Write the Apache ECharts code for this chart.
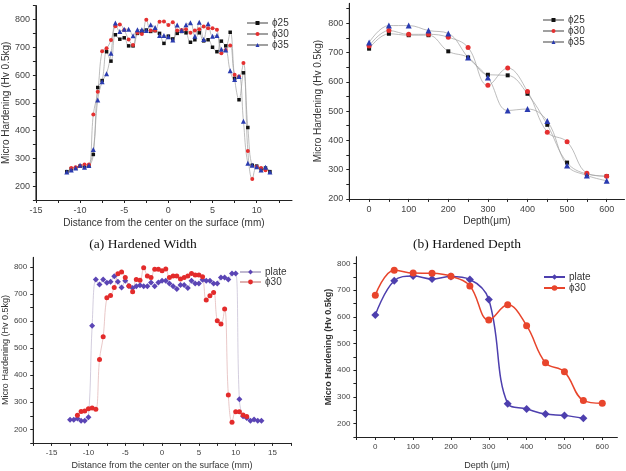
<!DOCTYPE html>
<html>
<head>
<meta charset="utf-8">
<script src="https://cdn.jsdelivr.net/npm/echarts@6/dist/echarts.min.js"></script>
<style>
html, body { margin: 0; background: #fff; }
#main { width: 626px; height: 471px; }
</style>
</head>
<body>
<div id="main"></div>
<script>
// (a) hardened width, three nozzle sizes
var widthX = [-11.5,-11,-10.5,-10,-9.5,-9,-8.5,-8,-7.5,-7,-6.5,-6,-5.5,-5,-4.5,-4,-3.5,-3,-2.5,-2,-1.5,-1,-0.5,0,
              0.5,1,1.5,2,2.5,3,3.5,4,4.5,5,5.5,6,6.5,7,7.5,8,8.5,9,9.5,10,10.5,11,11.5];
var w25 = [252,262,265,272,270,273,314,555,580,684,650,745,729,734,705,705,750,757,762,757,760,750,714,740,
           730,750,757,752,718,727,752,723,727,700,684,722,705,754,588,511,608,411,275,272,262,265,252];
var w30 = [null,265,268,272,278,278,458,540,686,696,726,776,782,762,728,708,752,748,799,760,760,792,793,780,
           790,760,762,765,752,760,765,775,768,768,763,678,690,706,601,595,643,326,226,270,265,257,null];
var w35 = [251,258,265,275,268,274,332,510,576,605,678,787,757,765,765,741,763,763,760,781,771,742,742,738,
           726,780,760,781,788,740,790,728,785,740,742,693,690,615,584,595,434,282,275,270,258,268,251];

// (b) hardened depth
var depthX = [0,50,100,150,200,250,300,350,400,450,500,550,600];
var d25 = [713,764,759,759,704,683,624,622,559,453,324,285,278];
var d30 = [722,775,762,762,752,717,588,647,567,428,395,288,277];
var d35 = [734,792,792,775,765,683,615,502,507,466,314,280,262];

// plate vs phi30, width
var plateWX = [-12.5,-12,-11.5,-11,-10.5,-10,-9.5,-9,-8.5,-8,-7.5,-7,-6.5,-6,-5.5,-5,-4.5,-4,-3.5,-3,-2.5,-2,-1.5,-1,-0.5,
               0,0.5,1,1.5,2,2.5,3,3.5,4,4.5,5,5.5,6,6.5,7,7.5,8,8.5,9,9.5,10,10.5,11,11.5,12,12.5,13,13.5];
var plateW = [235,235,240,232,232,245,582,753,735,753,741,745,765,745,724,748,729,722,728,732,728,728,742,728,742,
              748,748,738,728,718,733,733,722,748,738,738,752,748,748,738,738,760,760,753,775,775,311,248,242,232,236,232,232];
var cmpWX = widthX;
var cmpW30 = [252,266,268,276,279,274,458,542,686,694,724,774,781,760,729,708,753,750,796,766,760,791,791,785,
              792,760,766,766,755,760,766,775,770,770,763,677,693,705,601,589,644,327,226,265,265,253,247];

// plate vs phi30, depth
var plateDX = [0,50,100,150,200,250,300,350,400,450,500,550];
var plateD = [607,735,753,742,751,740,665,275,255,236,231,220];
var cmpD30 = [681,775,764,763,752,716,588,645,567,428,394,287,276];

// tick labels and tick marks
var ticksW1 = [-15,-10,-5,0,5,10], minorW1 = [-12.5,-7.5,-2.5,2.5,7.5,12.5];
var ticksW2 = [-15,-10,-5,0,5,10,15], minorW2 = [-17.5,-12.5,-7.5,-2.5,2.5,7.5,12.5,17.5];
var ticksD = [0,100,200,300,400,500,600], minorD = [-50,50,150,250,350,450,550];
var ticksH = [200,300,400,500,600,700,800], minorH = [150,250,350,450,550,650,750,850];

var legendText = {a25:'ϕ25', a30:'ϕ30', a35:'ϕ35', b25:'ϕ25', b30:'ϕ30', b35:'ϕ35',
                  cP:'plate', c30:'ϕ30', dP:'plate', d30:'ϕ30'};

var FONT = 'Liberation Sans';
var myChart = echarts.init(document.getElementById('main'));

function zip(xs, ys) {
    return xs.map(function (x, i) { return [x, ys[i]]; });
}

function axis(gi, min, max, majors, minors, name, gap, fs) {
    var marks = majors.concat(minors).filter(function (v) { return v >= min && v <= max; })
                      .sort(function (a, b) { return a - b; });
    return {
        type: 'value', gridIndex: gi, min: min, max: max,
        name: name, nameLocation: 'middle', nameGap: gap,
        nameTextStyle: { fontFamily: FONT, fontSize: fs + 1, color: '#333' },
        axisLine: { show: true, onZero: false, lineStyle: { color: '#222', width: 1 } },
        axisTick: { show: true, length: 3, customValues: marks },
        axisLabel: { customValues: majors, fontFamily: FONT, fontSize: fs, color: '#444', margin: 6 },
        splitLine: { show: false }
    };
}

// axis ranges per panel
var xMin = [-15, -50, -17.5, -50], xMax = [14, 645, 17.5, 640];
var yMin = [150, 200, 150, 150], yMax = [850, 868, 835, 825];

var xAxes = [
    axis(0, xMin[0], xMax[0], ticksW1, minorW1, 'Distance from the center on the surface (mm)', 18, 9),
    axis(1, xMin[1], xMax[1], ticksD, minorD, 'Depth(μm)', 17, 9),
    axis(2, xMin[2], xMax[2], ticksW2, minorW2, 'Distance from the center on the surface (mm)', 18, 8),
    axis(3, xMin[3], xMax[3], ticksD, minorD, 'Depth (μm)', 24, 8)
];
var yAxes = [
    axis(0, yMin[0], yMax[0], ticksH, minorH, 'Micro Hardening (Hv 0.5kg)', 23, 9),
    axis(1, yMin[1], yMax[1], ticksH, minorH, 'Micro Hardening (Hv 0.5kg)', 26, 9),
    axis(2, yMin[2], yMax[2], ticksH, minorH, 'Micro Hardening (Hv 0.5kg)', 22, 8),
    axis(3, yMin[3], yMax[3], ticksH, minorH, 'Micro Hardening (Hv 0.5kg)', 23, 8)
];
yAxes[3].nameTextStyle.fontWeight = 'bold';

function line(name, gi, data, symbol, size, markColor, lineColor, lineWidth) {
    return {
        name: name, type: 'line', xAxisIndex: gi, yAxisIndex: gi,
        data: data, smooth: 0.4, symbol: symbol, symbolSize: size, showSymbol: true,
        connectNulls: true, animation: false,
        itemStyle: { color: markColor, borderWidth: 0 },
        lineStyle: { color: lineColor, width: lineWidth }
    };
}

// the left axis line, drawn through the panel's own scales (the axis line itself does not show)
function leftAxis(gi) {
    return {
        name: 'axis' + gi, type: 'line', xAxisIndex: gi, yAxisIndex: gi,
        data: [[xMin[gi], yMin[gi]], [xMin[gi], yMax[gi]]],
        symbol: 'none', showSymbol: false, clip: false, silent: true, animation: false, z: 1,
        lineStyle: { color: '#222', width: 1 }
    };
}

var GREY = '#a0a0a0';
var series = [
    line('a25', 0, zip(widthX, w25), 'rect', 3.5, '#111', GREY, 0.7),
    line('a30', 0, zip(widthX, w30), 'circle', 4, '#e53030', GREY, 0.7),
    line('a35', 0, zip(widthX, w35), 'triangle', 5, '#2a3bb0', GREY, 0.7),
    line('b25', 1, zip(depthX, d25), 'rect', 4, '#111', GREY, 0.7),
    line('b30', 1, zip(depthX, d30), 'circle', 5, '#e53030', GREY, 0.7),
    line('b35', 1, zip(depthX, d35), 'triangle', 6, '#2a3bb0', GREY, 0.7),
    line('cP', 2, zip(plateWX, plateW), 'diamond', 6, '#5b45b5', '#c0b8d0', 0.7),
    line('c30', 2, zip(cmpWX, cmpW30), 'circle', 5, '#e32b2b', '#dfb0b0', 0.7),
    line('dP', 3, zip(plateDX, plateD), 'diamond', 8, '#4d3fae', '#4d3fae', 1.5),
    line('d30', 3, zip(depthX, cmpD30), 'circle', 7, '#e8452c', '#e8452c', 1.5),
    leftAxis(0), leftAxis(1), leftAxis(2), leftAxis(3)
];

function legend(left, top, names, gap, h) {
    return {
        left: left, top: top, orient: 'vertical', padding: 0,
        itemWidth: 21, itemHeight: h, itemGap: gap,
        data: names, selectedMode: false,
        formatter: function (n) { return legendText[n]; },
        textStyle: { fontFamily: FONT, fontSize: 10, color: '#333', padding: [0, 0, 0, -1] }
    };
}

myChart.setOption({
    animation: false,
    grid: [
        { left: 34, top: 5.6, width: 258, height: 194.4 },
        { left: 349.3, top: 3.3, width: 275.2, height: 195.6 },
        { left: 31.6, top: 257.3, width: 259.3, height: 185.6 },
        { left: 356.4, top: 256.8, width: 261, height: 186.8 }
    ],
    xAxis: xAxes,
    yAxis: yAxes,
    legend: [
        legend(246, 18, ['a25', 'a30', 'a35'], 1, 5),
        legend(542, 15, ['b25', 'b30', 'b35'], 1, 5),
        legend(239, 267, ['cP', 'c30'], 0, 6),
        legend(543, 272, ['dP', 'd30'], 1, 7)
    ],
    graphic: [
        { type: 'text', x: 143, y: 244, style: { text: '(a) Hardened Width', fontFamily: 'Liberation Serif',
          fontSize: 13.5, fill: '#111', align: 'center', verticalAlign: 'middle' } },
        { type: 'text', x: 467, y: 244, style: { text: '(b) Hardened Depth', fontFamily: 'Liberation Serif',
          fontSize: 13.5, fill: '#111', align: 'center', verticalAlign: 'middle' } }
    ],
    series: series
});
</script>
</body>
</html>
